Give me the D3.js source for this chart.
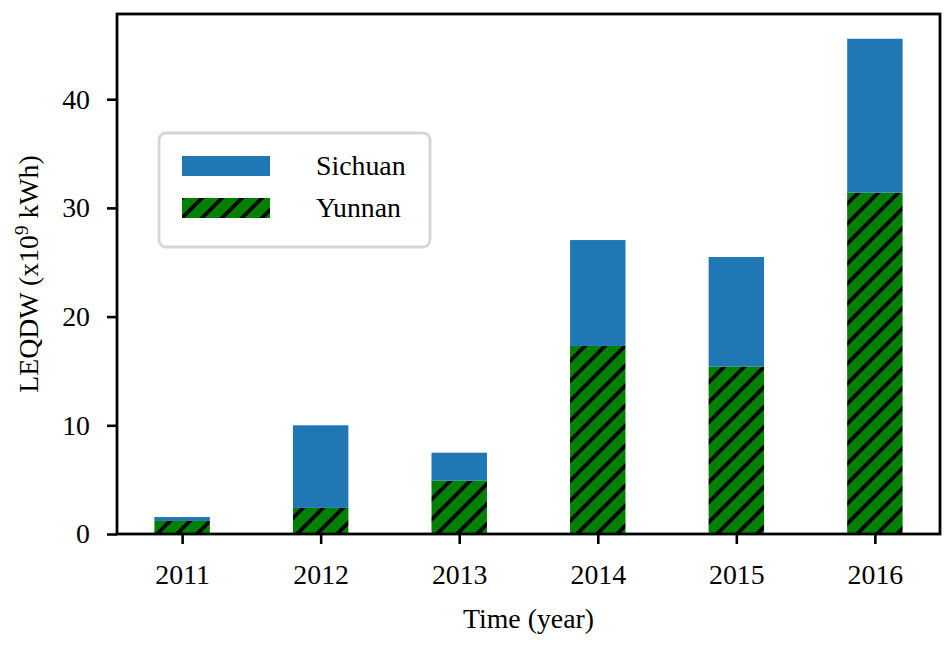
<!DOCTYPE html>
<html>
<head>
<meta charset="utf-8">
<script src="https://cdn.jsdelivr.net/npm/d3@7"></script>
<style>
  body { margin: 0; background: #fff; }
  text { font-family: "Liberation Serif", "Times New Roman", serif; }
</style>
</head>
<body>
<div id="chart"></div>
<script>
// data (x10^9 kWh), bars are stacked: Yunnan below, Sichuan on top
var years = ["2011", "2012", "2013", "2014", "2015", "2016"];
var yunnan = [1.2, 2.4, 4.9, 17.3, 15.4, 31.4];
var sichuan = [0.36, 7.6, 2.58, 9.74, 10.08, 14.16];
var yTicks = [0, 10, 20, 30, 40];

var W = 952, H = 648;
var margin = { top: 14, right: 12, bottom: 114, left: 117 },
    width = W - margin.left - margin.right,
    height = H - margin.top - margin.bottom;

var fs = 27.8;

var svg = d3.select("#chart").append("svg")
    .attr("width", W)
    .attr("height", H);

var defs = svg.append("defs");
var pat = defs.append("pattern")
    .attr("id", "hatch")
    .attr("patternUnits", "userSpaceOnUse")
    .attr("width", 20).attr("height", 20);
pat.append("rect").attr("width", 20).attr("height", 20).attr("fill", "#008000");
pat.append("path")
    .attr("d", "M-5,5L5,-5M0,20L20,0M15,25L25,15")
    .attr("stroke", "#000").attr("stroke-width", 3.8);

var g = svg.append("g")
    .attr("transform", "translate(" + margin.left + "," + margin.top + ")");

// linear x like matplotlib: categories at 0..5, bar width 0.4, 5% margins
var x = d3.scaleLinear().domain([-0.47, 5.47]).range([0, width]);
var totals = years.map(function (d, i) { return yunnan[i] + sichuan[i]; });
var y = d3.scaleLinear().domain([0, d3.max(totals) * 1.05]).range([height, 0]);
var bw = x(0.4) - x(0);

// Yunnan (bottom)
g.selectAll(".yn").data(years).enter().append("rect")
    .attr("class", "yn")
    .attr("x", function (d, i) { return x(i) - bw / 2; })
    .attr("width", bw)
    .attr("y", function (d, i) { return y(yunnan[i]); })
    .attr("height", function (d, i) { return height - y(yunnan[i]); })
    .attr("fill", "url(#hatch)");

// Sichuan (stacked on top)
g.selectAll(".sc").data(years).enter().append("rect")
    .attr("class", "sc")
    .attr("x", function (d, i) { return x(i) - bw / 2; })
    .attr("width", bw)
    .attr("y", function (d, i) { return y(yunnan[i] + sichuan[i]); })
    .attr("height", function (d, i) { return y(yunnan[i]) - y(yunnan[i] + sichuan[i]); })
    .attr("fill", "#1f77b4");

// axes
var xAxis = g.append("g")
    .attr("transform", "translate(0," + height + ")")
    .call(d3.axisBottom(x).tickValues(d3.range(years.length))
        .tickFormat(function (i) { return years[i]; })
        .tickSize(10).tickPadding(20).tickSizeOuter(0));
var yAxis = g.append("g")
    .call(d3.axisLeft(y).tickValues(yTicks).tickSize(10).tickPadding(17).tickSizeOuter(0));

[xAxis, yAxis].forEach(function (a) {
    a.select(".domain").remove();
    a.selectAll("line").attr("stroke", "#000").attr("stroke-width", 2.6);
    a.selectAll("text").attr("fill", "#000").style("font-size", fs + "px")
        .style("font-family", "'Liberation Serif', serif");
});

// frame
g.append("rect")
    .attr("width", width).attr("height", height)
    .attr("fill", "none").attr("stroke", "#000").attr("stroke-width", 2.8);

// axis labels
svg.append("text")
    .attr("x", margin.left + width / 2).attr("y", 628)
    .attr("text-anchor", "middle")
    .style("font-size", fs + "px")
    .text("Time (year)");

var yl = svg.append("text")
    .attr("transform", "translate(38," + (margin.top + height / 2) + ") rotate(-90)")
    .attr("text-anchor", "middle")
    .style("font-size", fs + "px");
yl.append("tspan").text("LEQDW (x10");
yl.append("tspan").attr("dy", -10).style("font-size", "19px").text("9");
yl.append("tspan").attr("dy", 10).text(" kWh)");

// legend
var leg = svg.append("g");
leg.append("rect")
    .attr("x", 159).attr("y", 133).attr("width", 271).attr("height", 114)
    .attr("rx", 7).attr("fill", "#fff")
    .attr("stroke", "#d5d5d5").attr("stroke-width", 2.8);
var legItems = [
    { name: "Sichuan", fill: "#1f77b4", y: 156 },
    { name: "Yunnan", fill: "url(#hatch)", y: 198 }
];
legItems.forEach(function (d) {
    leg.append("rect")
        .attr("x", 182).attr("y", d.y).attr("width", 88).attr("height", 20)
        .attr("fill", d.fill);
    leg.append("text")
        .attr("x", 316).attr("y", d.y + 19)
        .style("font-size", fs + "px")
        .text(d.name);
});
</script>
</body>
</html>
